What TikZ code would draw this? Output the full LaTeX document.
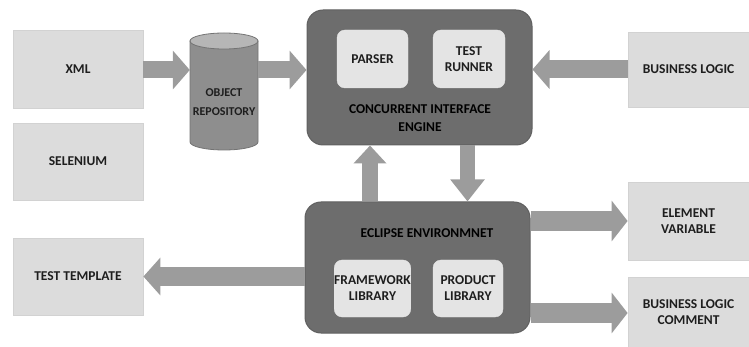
\documentclass[tikz,border=0pt]{standalone}
\usepackage{fontspec}
\setmainfont{Carlito}
\usetikzlibrary{arrows.meta}
\definecolor{lightc}{HTML}{DCDCDC}
\definecolor{lightedge}{HTML}{D2D2D2}
\definecolor{darkc}{HTML}{6D6D6D}
\definecolor{darkedge}{HTML}{606060}
\definecolor{innerc}{HTML}{E4E4E4}
\definecolor{arrowc}{HTML}{9C9C9C}
\definecolor{cylbody}{HTML}{8E8E8E}
\definecolor{cyltop}{HTML}{B6B6B6}
\definecolor{cyledge}{HTML}{737373}
\definecolor{txt}{HTML}{1E1E1E}
\tikzset{
  lbl/.style={font=\bfseries\fontsize{13.5}{16}\selectfont, text=txt, align=center},
  lbox/.style={lbl, rectangle, fill=lightc, draw=lightedge, line width=0.8pt, inner sep=0pt},
  darkbox/.style={rectangle, rounded corners=16pt, fill=darkc, draw=darkedge, line width=1pt, inner sep=0pt},
  inbox/.style={lbl, rectangle, rounded corners=8pt, fill=innerc, draw=innerc, inner sep=0pt},
  fat/.style n args={3}{draw=arrowc, line width=#1, -{Triangle[width=#2,length=#3]}}
}
\begin{document}
\begin{tikzpicture}[x=1pt,y=1pt]
\useasboundingbox (0,0) rectangle (749,-347);
% left boxes
\node[lbox, minimum width=130pt, minimum height=78pt] (xml) at (78,-69) {XML};
\node[lbox, minimum width=130pt, minimum height=77pt] (sel) at (78,-161.5) {SELENIUM};
\node[lbox, minimum width=130pt, minimum height=77pt] (tt) at (78,-276.5) {TEST TEMPLATE};
% right boxes
\node[lbox, minimum width=121pt, minimum height=75pt] (bl) at (688.5,-69.5) {BUSINESS LOGIC};
\node[lbox, minimum width=121pt, minimum height=78pt] (ev) at (688.5,-221) {ELEMENT\\VARIABLE};
\node[lbox, minimum width=121pt, minimum height=70pt] (blc) at (688.5,-312) {BUSINESS LOGIC\\COMMENT};
% cylinder
\node[minimum width=68pt, minimum height=117pt, inner sep=0pt] (cyl) at (224,-91.5) {};
\filldraw[fill=cylbody, draw=cyledge, line width=0.8pt]
  (190,-41) -- (190,-142) arc[start angle=180, end angle=360, x radius=34, y radius=8] -- (258,-41) -- cycle;
\filldraw[fill=cyltop, draw=cyledge, line width=0.8pt] (224,-41) ellipse [x radius=34, y radius=8];
\node[lbl, font=\bfseries\fontsize{12}{14}\selectfont] (cyltxt) at ([yshift=-10.5pt]cyl.center) {OBJECT\\[5pt]REPOSITORY};
% engine
\node[darkbox, minimum width=225pt, minimum height=135pt] (eng) at (419.5,-77.5) {};
\node[inbox, minimum width=71pt, minimum height=58pt] (parser) at (372.5,-59) {PARSER};
\node[inbox, minimum width=72pt, minimum height=58pt] (runner) at (469,-59) {TEST\\RUNNER};
\node[lbl, text=black] (engtxt) at (420,-118) {CONCURRENT INTERFACE\\[2pt]ENGINE};
% eclipse
\node[darkbox, minimum width=225pt, minimum height=131pt] (ecl) at (417.5,-267.5) {};
\node[lbl, text=black] (ecltxt) at (427,-233) {ECLIPSE ENVIRONMNET};
\node[inbox, minimum width=71pt, minimum height=57pt] (fw) at (372.5,-288.5) {FRAMEWORK\\LIBRARY};
\node[inbox, minimum width=70pt, minimum height=57pt] (prod) at (468,-288.5) {PRODUCT\\LIBRARY};
% arrows
\draw[fat={17pt}{38pt}{17pt}] ([yshift=-1pt]xml.east) -- ([yshift=-1pt]xml.east -| cyl.west);
\draw[fat={17pt}{38pt}{17pt}] ([yshift=-1pt]xml.east -| cyl.east) -- ([yshift=-1pt]xml.east -| eng.west);
\draw[fat={18pt}{38pt}{17pt}] (bl.west) -- (bl.west -| eng.east);
\draw[fat={16pt}{32pt}{18pt}] ([xshift=-47.5pt]ecl.north) -- ([xshift=-47.5pt]ecl.north |- eng.south);
\draw[fat={15pt}{33pt}{22pt}] ([xshift=48pt]eng.south) -- ([xshift=48pt]eng.south |- ecl.north);
\draw[fat={20pt}{40pt}{16pt}] (ev.west -| ecl.east) -- (ev.west);
\draw[fat={20pt}{40pt}{16pt}] ([yshift=-1pt]blc.west -| ecl.east) -- ([yshift=-1pt]blc.west);
\draw[fat={19pt}{37pt}{17pt}] (tt.east -| ecl.west) -- (tt.east);
\end{tikzpicture}
\end{document}
